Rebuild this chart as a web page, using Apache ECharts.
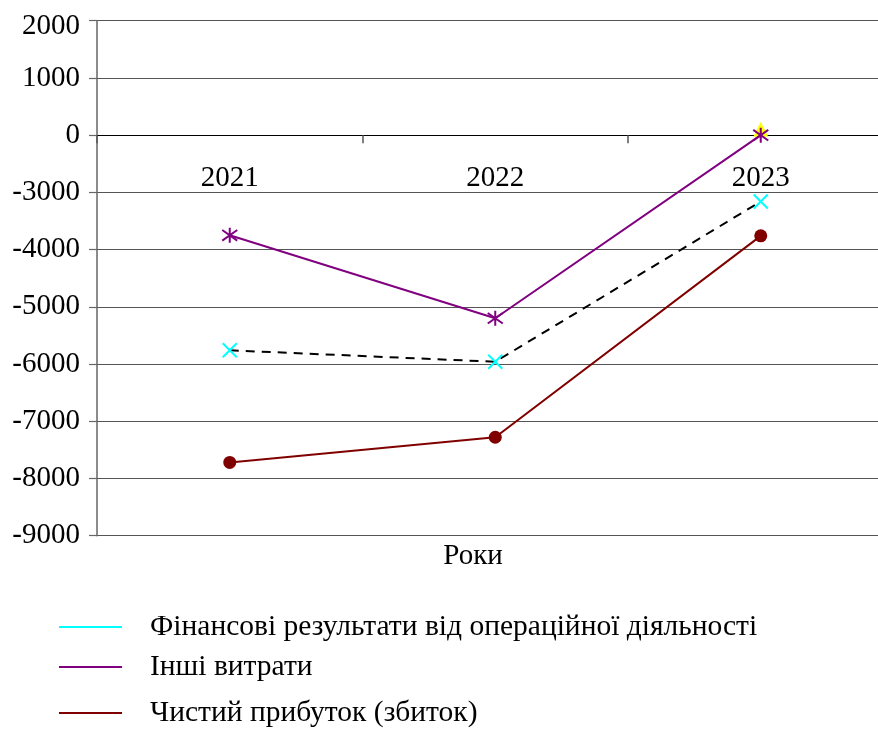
<!DOCTYPE html>
<html>
<head>
<meta charset="utf-8">
<script src="https://cdn.jsdelivr.net/npm/echarts@6/dist/echarts.min.js"></script>
<style>
  html, body { margin: 0; padding: 0; background: #fff; }
  #chart { width: 878px; height: 731px; }
</style>
</head>
<body>
<div id="chart"></div>
<script>
// Years on the category axis
const years = ['2021', '2022', '2023'];

// Series values, тис. грн
const operatingResult = [-5760, -5960, -3160];   // Фінансові результати від операційної діяльності
const otherExpenses   = [-3750, -5200, 0];       // Інші витрати
const netProfit       = [-7720, -7280, -3760];   // Чистий прибуток (збиток)
const extraPoint      = [null, null, 0];         // yellow marker at 2023

// Tick labels of the value axis, top to bottom (evenly spaced on the axis)
const yTickLabels = [2000, 1000, 0, -3000, -4000, -5000, -6000, -7000, -8000, -9000];

const FONT = "'Liberation Serif', 'Times New Roman', serif";

// The value axis runs in tick-index units: top tick = 2, zero tick = 0, bottom = -7.
const zeroIndex = yTickLabels.indexOf(0);
const axisMax = zeroIndex;
const axisMin = zeroIndex - (yTickLabels.length - 1);
function toAxis(v) {
  if (v === null || v === undefined) return null;
  for (let i = 0; i < yTickLabels.length - 1; i++) {
    const a = yTickLabels[i], b = yTickLabels[i + 1];
    if (v <= a && v >= b) {
      return zeroIndex - (i + (a - v) / (a - b));
    }
  }
  return v > yTickLabels[0] ? axisMax : axisMin;
}
function axisLabel(c) {
  const idx = Math.round(zeroIndex - c);
  if (yTickLabels[idx] === undefined) return '';
  // the topmost label sits a little lower, below the plot's upper edge
  return idx === 0 ? '{first|' + yTickLabels[idx] + '}' : String(yTickLabels[idx]);
}

const GRID_TOP = 20.7;
const GRID_HEIGHT = 515;
// Category axis sits on the zero line: shift it up from the bottom edge.
const zeroOffset = -GRID_HEIGHT * (0 - axisMin) / (axisMax - axisMin);

const asterisk = 'path://M0,-10L0,10M-7.07,-7.07L7.07,7.07M-7.07,7.07L7.07,-7.07';
const cross = 'path://M-7,-7L7,7M-7,7L7,-7';

const NAME_OP = 'Фінансові результати від операційної діяльності';
const NAME_OTHER = 'Інші витрати';
const NAME_NET = 'Чистий прибуток (збиток)';

function legendAt(name, top) {
  return {
    data: [name],
    orient: 'vertical',
    left: 59,
    top: top,
    padding: 0,
    icon: 'rect',
    itemWidth: 63,
    itemHeight: 2,
    itemStyle: { borderWidth: 0 },
    selectedMode: false,
    textStyle: {
      fontFamily: FONT,
      fontSize: 29.5,
      color: '#000',
      padding: [0, 0, 0, 23]
    }
  };
}

const chart = echarts.init(document.getElementById('chart'));
chart.setOption({
  animation: false,
  backgroundColor: '#fff',
  grid: {
    left: 97, top: GRID_TOP, width: 796.5, height: GRID_HEIGHT,
    outerBoundsMode: 'none', containLabel: false
  },
  xAxis: {
    type: 'category',
    data: years,
    boundaryGap: true,
    position: 'bottom',
    offset: zeroOffset,
    axisLine: { onZero: false, lineStyle: { color: '#000', width: 1.2 } },
    axisTick: { show: true, length: 8, lineStyle: { color: '#555', width: 1.5 } },
    axisLabel: { fontFamily: FONT, fontSize: 29, color: '#000', margin: 29 },
    splitLine: { show: false }
  },
  yAxis: {
    type: 'value',
    min: axisMin,
    max: axisMax,
    interval: 1,
    axisLine: { show: true, lineStyle: { color: '#666', width: 1.5 } },
    axisTick: { show: true, length: 8, lineStyle: { color: '#666', width: 1.2 } },
    axisLabel: {
      fontFamily: FONT, fontSize: 29, color: '#000', margin: 17,
      formatter: axisLabel,
      rich: {
        first: { fontFamily: FONT, fontSize: 29, color: '#000', padding: [11, 0, 0, 0] }
      }
    },
    splitLine: { show: true, lineStyle: { color: '#555', width: 1.2 } }
  },
  legend: [
    legendAt(NAME_OP, 612),
    legendAt(NAME_OTHER, 652),
    legendAt(NAME_NET, 698)
  ],
  graphic: [{
    type: 'text',
    x: 473,
    y: 556,
    style: {
      text: 'Роки',
      fontFamily: FONT,
      fontSize: 29,
      fill: '#000',
      align: 'center',
      verticalAlign: 'middle'
    }
  }],
  series: [
    {
      name: 'extra',
      type: 'line',
      data: extraPoint.map(toAxis),
      symbol: 'triangle',
      symbolSize: 15,
      symbolOffset: [0, -6],
      itemStyle: { color: '#FFFF00' },
      lineStyle: { width: 0 },
      z: 1
    },
    {
      name: NAME_OP,
      type: 'line',
      data: operatingResult.map(toAxis),
      symbol: cross,
      symbolSize: 14,
      showAllSymbol: true,
      lineStyle: { color: '#000', width: 2, type: [9, 7] },
      itemStyle: { color: '#00FFFF', borderColor: '#00FFFF', borderWidth: 2 },
      z: 2
    },
    {
      name: NAME_OTHER,
      type: 'line',
      data: otherExpenses.map(toAxis),
      symbol: asterisk,
      symbolSize: 15,
      showAllSymbol: true,
      lineStyle: { color: '#800080', width: 2 },
      itemStyle: { color: '#800080', borderColor: '#800080', borderWidth: 2 },
      z: 3
    },
    {
      name: NAME_NET,
      type: 'line',
      data: netProfit.map(toAxis),
      symbol: 'circle',
      symbolSize: 13,
      showAllSymbol: true,
      lineStyle: { color: '#800000', width: 2 },
      itemStyle: { color: '#800000' },
      z: 2
    }
  ]
});
</script>
</body>
</html>
